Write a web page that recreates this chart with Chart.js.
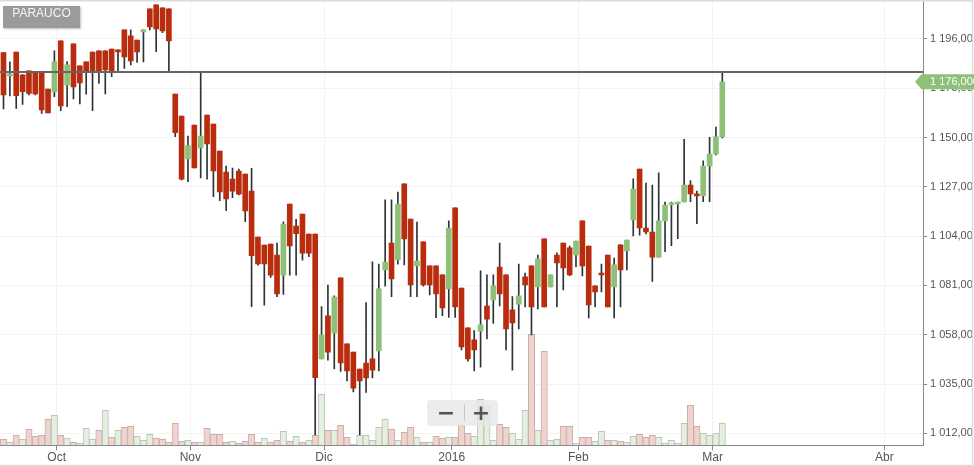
<!DOCTYPE html>
<html>
<head>
<meta charset="utf-8">
<title>PARAUCO</title>
<script src="https://cdn.jsdelivr.net/npm/chart.js@4.4.0/dist/chart.umd.min.js"></script>
<style>
  html, body { margin: 0; padding: 0; background: #fff; }
  .wrap { position: relative; width: 974px; height: 466px; overflow: hidden; }
  .ticker {
    position: absolute; left: 3px; top: 6px; width: 77px; height: 22px;
    background: #9b9b9b; color: #f4f4f4; text-align: center; line-height: 22px;
    font: 12px "Liberation Sans", Arial, sans-serif;
    box-shadow: 1px 1px 2px rgba(0, 0, 0, .25);
  }
  .zoom {
    position: absolute; left: 427px; top: 400px; width: 71px; height: 26px;
    background: rgba(230, 230, 230, .75); border-radius: 4px;
  }
  .zoom span {
    position: absolute; top: 0; width: 36px; height: 26px; line-height: 25px; text-align: center;
    font: bold 22px "DejaVu Sans", sans-serif; color: #555;
  }
  .zoom .minus { left: 1px; }
  .zoom .plus { left: 36px; }
  .zoom .sep { position: absolute; left: 37px; top: 4px; width: 1px; height: 17px; background: #c8c8c8; }
</style>
</head>
<body>
<div class="wrap">
  <canvas id="stockChart" width="974" height="466"></canvas>
  <div class="ticker">PARAUCO</div>
  <div class="zoom"><span class="minus">−</span><div class="sep"></div><span class="plus">+</span></div>
</div>
<script>
// daily candles, one slot per trading day (index 0 = first visible session)
const open = [1189.6, 1178.7, 1189.9, 1179.2, 1181.1, 1180.6, 1180.1, 1172.6, 1171.3, 1195.1,
  1174.5, 1193.7, 1183.4, 1185.3, 1189.9, 1190.4, 1190.4, 1191.3, 1190.9, 1200.2,
  1197.4, 1195.5, 1199.3, 1210.0, 1211.9, 1210.5, 1210.0, 1170.3, 1160.0, 1140.0,
  1155.8, 1145.1, 1160.5, 1156.3, 1143.7, 1133.9, 1130.6, 1134.4, 1133.0, 1125.0,
  1103.6, 1099.8, 1100.3, 1095.2, 1085.8, 1119.0, 1108.7, 1114.3, 1105.0, 1105.0,
  1046.7, 1066.8, 1058.8, 1084.5, 1053.7, 1049.9, 1042.0, 1044.8, 1046.7, 1050.4,
  1088.2, 1100.8, 1092.9, 1128.4, 1112.0, 1090.1, 1101.3, 1090.1, 1090.1, 1085.9,
  1079.4, 1117.2, 1079.8, 1061.2, 1055.6, 1059.7, 1071.4, 1074.2, 1089.6, 1085.9,
  1069.6, 1072.3, 1085.0, 1090.1, 1080.3, 1102.7, 1080.3, 1095.2, 1100.8, 1098.5,
  1095.2, 1111.1, 1099.4, 1080.8, 1086.8, 1095.2, 1080.3, 1099.9, 1097.1, 1111.6,
  1135.3, 1107.8, 1105.9, 1094.2, 1111.1, 1118.5, 1119.0, 1119.9, 1127.8, 1123.7,
  1122.7, 1136.7, 1142.3, 1150.3];
const high = [1189.6, 1185.3, 1189.9, 1179.2, 1181.1, 1180.6, 1180.1, 1172.6, 1190.4, 1195.1,
  1185.4, 1193.7, 1183.4, 1185.3, 1189.9, 1190.4, 1190.4, 1191.3, 1190.9, 1200.2,
  1200.2, 1195.5, 1200.2, 1210.0, 1211.9, 1210.5, 1210.0, 1170.3, 1160.0, 1150.7,
  1155.8, 1180.6, 1160.5, 1156.3, 1143.7, 1136.7, 1135.8, 1135.3, 1133.0, 1135.6,
  1103.6, 1099.8, 1100.3, 1100.8, 1110.7, 1119.0, 1111.8, 1114.3, 1105.0, 1105.0,
  1071.1, 1081.2, 1076.1, 1084.5, 1053.7, 1049.9, 1042.0, 1073.0, 1092.0, 1091.0,
  1120.9, 1120.9, 1124.6, 1128.4, 1112.0, 1110.6, 1101.3, 1090.1, 1090.1, 1085.9,
  1111.1, 1117.2, 1079.8, 1061.2, 1059.9, 1087.8, 1085.9, 1085.9, 1100.8, 1085.9,
  1075.8, 1091.0, 1086.8, 1090.1, 1095.2, 1102.7, 1085.9, 1096.2, 1100.8, 1099.4,
  1101.7, 1111.1, 1099.4, 1080.8, 1091.0, 1095.2, 1093.8, 1099.9, 1102.2, 1130.7,
  1135.3, 1128.8, 1127.8, 1133.5, 1119.9, 1119.9, 1119.9, 1149.2, 1129.9, 1125.0,
  1139.1, 1150.1, 1154.9, 1180.6];
const low = [1163.3, 1169.4, 1163.6, 1165.5, 1169.9, 1169.9, 1161.3, 1161.5, 1169.1, 1162.5,
  1164.4, 1168.0, 1165.7, 1170.2, 1162.5, 1175.3, 1170.3, 1178.4, 1180.3, 1182.3,
  1183.9, 1185.1, 1185.3, 1200.2, 1190.1, 1198.9, 1180.4, 1150.4, 1130.2, 1129.4,
  1135.8, 1131.1, 1130.6, 1122.4, 1120.5, 1115.9, 1121.9, 1123.2, 1110.7, 1071.1,
  1090.5, 1071.8, 1084.7, 1075.7, 1076.8, 1085.8, 1085.8, 1092.8, 1094.4, 1011.2,
  1046.7, 1046.1, 1042.0, 1040.9, 1036.4, 1031.3, 1011.2, 1031.1, 1037.8, 1041.1,
  1080.7, 1075.8, 1090.9, 1090.6, 1075.8, 1075.8, 1080.7, 1076.6, 1066.0, 1066.9,
  1066.1, 1066.1, 1050.9, 1045.7, 1041.1, 1042.9, 1056.0, 1063.3, 1071.4, 1050.9,
  1041.5, 1060.7, 1071.0, 1057.9, 1070.0, 1071.0, 1080.3, 1071.0, 1078.9, 1085.6,
  1089.8, 1085.4, 1065.8, 1071.0, 1078.0, 1071.0, 1065.8, 1071.0, 1088.2, 1104.1,
  1104.5, 1105.0, 1082.9, 1094.2, 1096.7, 1099.5, 1102.8, 1119.9, 1120.1, 1109.8,
  1120.1, 1120.1, 1141.9, 1149.8];
const close = [1169.9, 1179.7, 1169.5, 1171.4, 1170.6, 1170.3, 1162.9, 1161.5, 1185.3, 1164.7,
  1183.9, 1173.6, 1175.5, 1180.6, 1180.6, 1180.4, 1181.5, 1181.1, 1189.9, 1187.6,
  1185.7, 1189.9, 1200.2, 1201.6, 1200.7, 1199.7, 1195.1, 1152.3, 1130.6, 1146.2,
  1135.8, 1150.7, 1147.0, 1134.4, 1124.6, 1121.3, 1125.0, 1123.6, 1115.7, 1094.9,
  1091.0, 1091.0, 1085.8, 1077.0, 1109.6, 1099.4, 1105.1, 1096.1, 1096.1, 1038.0,
  1057.9, 1049.9, 1075.6, 1044.8, 1041.1, 1033.1, 1036.4, 1037.8, 1041.5, 1079.4,
  1091.9, 1084.0, 1119.0, 1102.7, 1081.2, 1092.4, 1081.2, 1081.2, 1077.0, 1070.5,
  1107.8, 1071.0, 1052.3, 1046.7, 1050.9, 1062.6, 1065.3, 1080.8, 1077.0, 1060.7,
  1063.5, 1076.1, 1081.2, 1071.0, 1093.4, 1071.0, 1085.9, 1091.5, 1089.2, 1085.9,
  1101.7, 1090.1, 1071.9, 1078.0, 1085.9, 1071.0, 1090.6, 1088.2, 1102.2, 1126.0,
  1107.8, 1105.9, 1094.2, 1111.1, 1118.5, 1119.5, 1119.9, 1127.8, 1123.7, 1122.7,
  1136.7, 1142.3, 1150.3, 1176.0];
// relative traded volume
const volume = [60, 30, 100, 60, 160, 90, 100, 260, 300, 100,
  70, 30, 20, 170, 60, 150, 350, 80, 150, 180,
  190, 90, 50, 110, 70, 60, 30, 220, 40, 50,
  30, 30, 170, 110, 110, 30, 40, 20, 40, 110,
  30, 70, 30, 50, 140, 40, 90, 30, 50, 100,
  510, 150, 150, 200, 80, 10, 100, 100, 50, 180,
  260, 160, 50, 130, 180, 80, 30, 30, 90, 70,
  80, 80, 200, 120, 90, 460, 390, 50, 210, 180,
  120, 60, 350, 1110, 150, 940, 50, 60, 190, 190,
  20, 80, 80, 40, 140, 50, 50, 40, 30, 90,
  110, 80, 100, 80, 20, 50, 20, 220, 400, 190,
  120, 100, 120, 220];

const monthLabels = ['Oct', 'Nov', 'Dic', '2016', 'Feb', 'Mar', 'Abr'];
const monthPos = [8.36, 29.37, 50.39, 70.46, 90.36, 111.49, 138.47];
const priceTicks = [1012, 1035, 1058, 1081, 1104, 1127, 1150, 1173, 1196];
const resistance = 1180.6;

const RED = '#b92c0e';
const GREEN = '#8dc179';

const fmt = (v, dec) => {
  const s = v.toFixed(dec).split('.');
  const n = s[0].replace(/\B(?=(\d{3})+(?!\d))/g, ' ');
  return n + ',' + s[1];
};

document.addEventListener("DOMContentLoaded", () => {
  const ctx = document.getElementById('stockChart');
  const idx = close.map((_, i) => i);
  const xMin = -0.55, xMax = 144.55;
  const volUp = close.map((c, i) => c >= (i ? close[i - 1] : open[i]));
  const last = close[close.length - 1];

  // frame + last price tag
  const frame = {
    id: 'frame',
    beforeDraw(chart) {
      const c = chart.ctx;
      c.save();
      c.fillStyle = '#fff';
      c.fillRect(0, 0, chart.width, chart.height);
      c.restore();
    },
    afterDraw(chart) {
      const c = chart.ctx;
      const y = chart.scales.y.getPixelForValue(last);
      c.save();
      c.strokeStyle = '#dcdcdc';
      c.lineWidth = 1.5;
      c.beginPath();
      c.moveTo(0, 0.75); c.lineTo(972.5, 0.75); c.lineTo(972.5, 465.5); c.lineTo(0, 465.5);
      c.stroke();
      c.fillStyle = GREEN;
      c.beginPath();
      c.moveTo(915, y);
      c.lineTo(921.5, y - 7.5);
      c.lineTo(974, y - 7.5);
      c.lineTo(974, y + 7.5);
      c.lineTo(921.5, y + 7.5);
      c.closePath();
      c.fill();
      c.fillStyle = '#fff';
      c.font = '11px "Liberation Sans", Arial, sans-serif';
      c.textBaseline = 'middle';
      c.fillText(fmt(last, 3), 930, y + 0.5);
      c.restore();
    }
  };

  new Chart(ctx, {
    type: 'bar',
    data: {
      datasets: [{
        type: 'line',
        order: 0,
        data: [{ x: xMin, y: resistance }, { x: xMax, y: resistance }],
        borderColor: '#666',
        borderWidth: 2,
        pointRadius: 0
      }, {
        order: 1,
        grouped: false,
        data: idx.map(i => ({ x: i, y: [open[i], close[i]] })),
        backgroundColor: idx.map(i => close[i] >= open[i] ? GREEN : RED),
        barThickness: 5
      }, {
        order: 2,
        grouped: false,
        data: idx.map(i => ({ x: i, y: [low[i], high[i]] })),
        backgroundColor: '#2d3436',
        barThickness: 1
      }, {
        order: 3,
        grouped: false,
        yAxisID: 'yv',
        data: idx.map(i => ({ x: i, y: volume[i] })),
        backgroundColor: volUp.map(u => u ? '#e5efdf' : '#f1d3ce'),
        borderColor: volUp.map(u => u ? '#bcc6b7' : '#c9afab'),
        borderWidth: 1,
        barPercentage: 1,
        categoryPercentage: 1
      }]
    },
    options: {
      responsive: false,
      animation: false,
      layout: { padding: { top: 1, left: 0, right: 0, bottom: 0 } },
      plugins: {
        legend: { display: false },
        tooltip: { enabled: false }
      },
      scales: {
        x: {
          type: 'linear',
          min: xMin,
          max: xMax,
          offset: false,
          grid: { offset: false, color: '#f3f3f3', tickColor: '#888', tickLength: 5 },
          border: { color: '#888' },
          afterBuildTicks: s => { s.ticks = monthPos.map(v => ({ value: v })); },
          afterFit: s => { s.height = 20.7; s.paddingLeft = 0; s.paddingRight = 0; },
          ticks: {
            autoSkip: false,
            maxRotation: 0,
            padding: 0,
            color: '#555',
            font: { family: '"Liberation Sans", Arial, sans-serif', size: 12 },
            callback: (v, i) => monthLabels[i]
          }
        },
        y: {
          position: 'right',
          min: 1006.4,
          max: 1213.7,
          grid: { color: '#f3f3f3', tickColor: '#888', tickLength: 4 },
          border: { color: '#888' },
          afterBuildTicks: s => { s.ticks = priceTicks.map(v => ({ value: v })); },
          afterFit: s => { s.width = 51; s.paddingTop = 0; s.paddingBottom = 0; },
          ticks: {
            padding: 3,
            color: '#555',
            font: { family: '"Liberation Sans", Arial, sans-serif', size: 11 },
            callback: v => fmt(v, 2)
          }
        },
        yv: {
          display: false,
          min: 0,
          max: Math.max(...volume) * 4
        }
      }
    },
    plugins: [frame]
  });
});
</script>
</body>
</html>
